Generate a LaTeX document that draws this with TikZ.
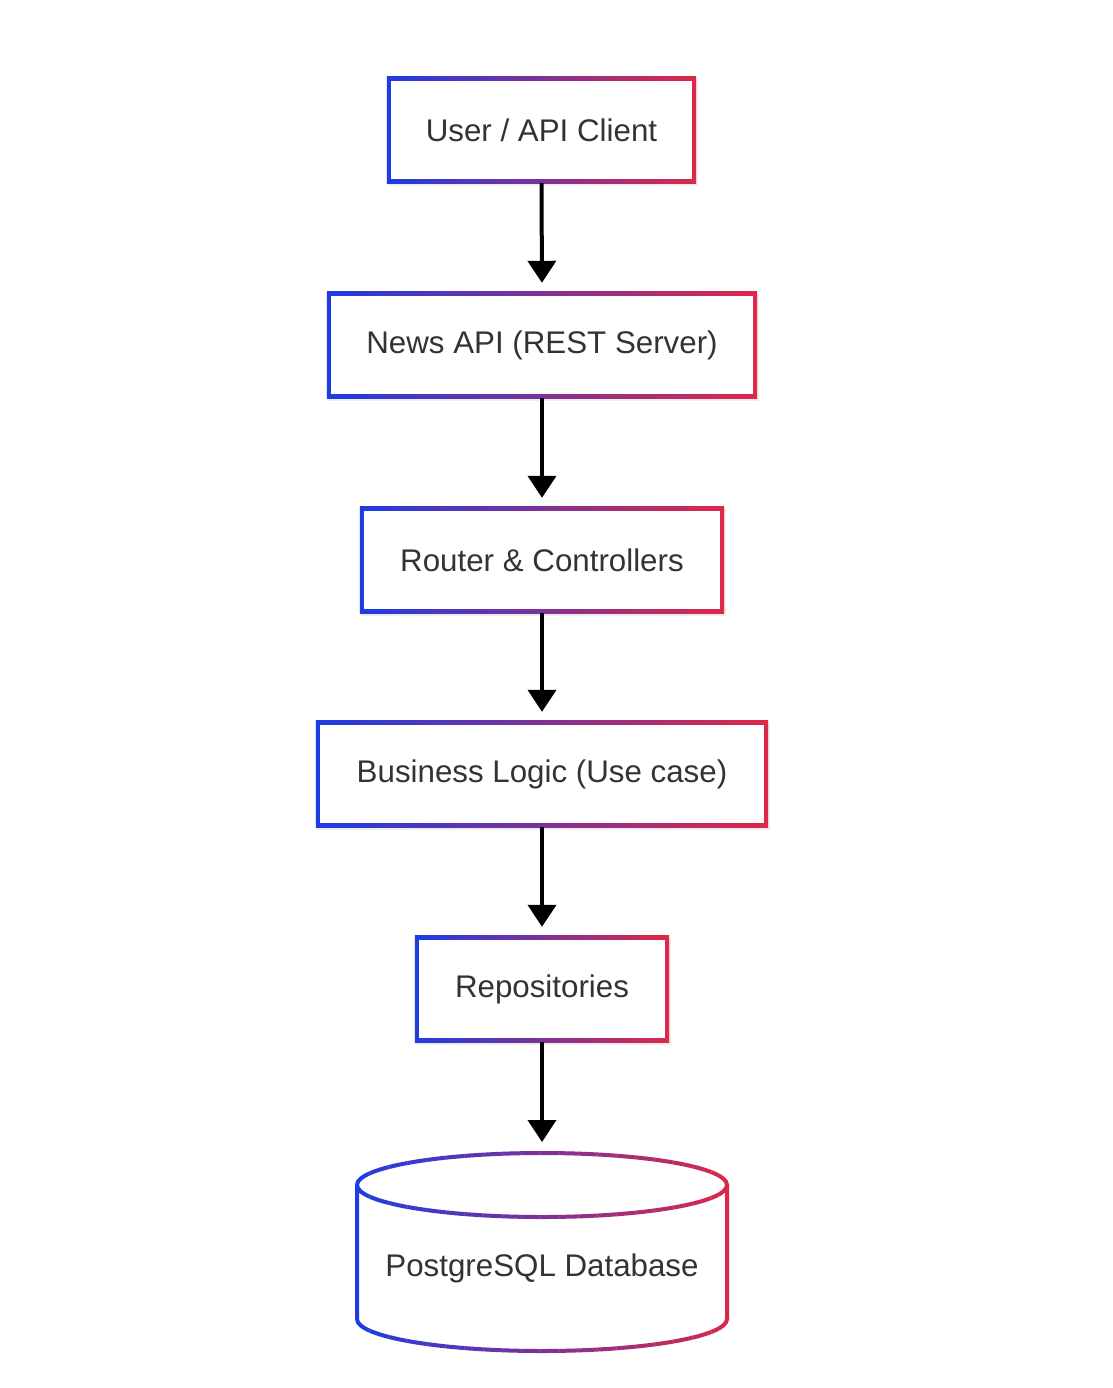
\documentclass[tikz,border=0pt]{standalone}
\usepackage{fontspec}
\setmainfont{Liberation Sans}
\usetikzlibrary{arrows.meta,backgrounds}
\definecolor{gblue}{RGB}{30,60,228}
\definecolor{gred}{RGB}{222,40,72}
\definecolor{txtc}{RGB}{51,51,51}
\tikzset{
  box/.style={rectangle, inner sep=0pt, minimum height=102pt,
    font=\fontsize{31.3}{37}\selectfont, text=txtc},
  dblabel/.style={inner sep=0pt, font=\fontsize{31.3}{37}\selectfont, text=txtc},
  flow/.style={-{Triangle[width=28pt,length=22pt]}, line width=4pt, black,
    shorten <=2pt, shorten >=11pt},
  softshadow/.style={fill=black!7},
}
\newcommand\gradbox[1]{%
  \begin{pgfonlayer}{background}
    \path[softshadow]
      ([xshift=-1pt,yshift=0pt]#1.north west) rectangle ([xshift=3.5pt,yshift=-4.5pt]#1.south east);
    \shade[left color=gblue, right color=gred]
      ([xshift=-2pt,yshift=2pt]#1.north west) rectangle ([xshift=2pt,yshift=-2pt]#1.south east);
    \fill[white]
      ([xshift=2pt,yshift=-2pt]#1.north west) rectangle ([xshift=-2pt,yshift=2pt]#1.south east);
  \end{pgfonlayer}}
\begin{document}
\begin{tikzpicture}[x=1pt,y=-1pt]
\useasboundingbox (0,0) rectangle (1112,1388);
\begin{pgfonlayer}{background}
  \fill[white] (0,0) rectangle (1112,1388);
\end{pgfonlayer}

\node[box, minimum width=305pt] (user)   at (541.5,130) {User / API Client};
\node[box, minimum width=426pt] (news)   at (542,345)   {News API (REST Server)};
\node[box, minimum width=360pt] (router) at (542,560)   {Router \& Controllers};
\node[box, minimum width=448pt] (logic)  at (542,774)   {Business Logic (Use case)};
\node[box, minimum width=250pt] (repo)   at (542,989)   {Repositories};

\gradbox{user}
\gradbox{news}
\gradbox{router}
\gradbox{logic}
\gradbox{repo}

% database cylinder
\foreach \i in {0,...,79}{
  \pgfmathsetmacro\xa{355+\i*4.75}
  \pgfmathsetmacro\xb{\xa+5.1}
  \pgfmathtruncatemacro\pct{100*(\i+0.5)/80}
  \begin{scope}
    \clip (\xa,1140) rectangle (\xb,1362);
    \draw[line width=4pt, color=gred!\pct!gblue]
      (542,1185) ellipse [x radius=185pt, y radius=32pt];
    \draw[line width=4pt, color=gred!\pct!gblue]
      (357,1185) -- (357,1319)
      arc[start angle=180, end angle=360, x radius=185pt, y radius=32pt]
      -- (727,1185);
  \end{scope}
}
\node[dblabel] (db) at (542,1268) {PostgreSQL Database};
\coordinate (dbtop) at (542,1153);

\draw[flow] (user.south) -- (news.north);
\draw[flow] (news.south) -- (router.north);
\draw[flow] (router.south) -- (logic.north);
\draw[flow] (logic.south) -- (repo.north);
\draw[flow] (repo.south) -- (dbtop);
\end{tikzpicture}
\end{document}
